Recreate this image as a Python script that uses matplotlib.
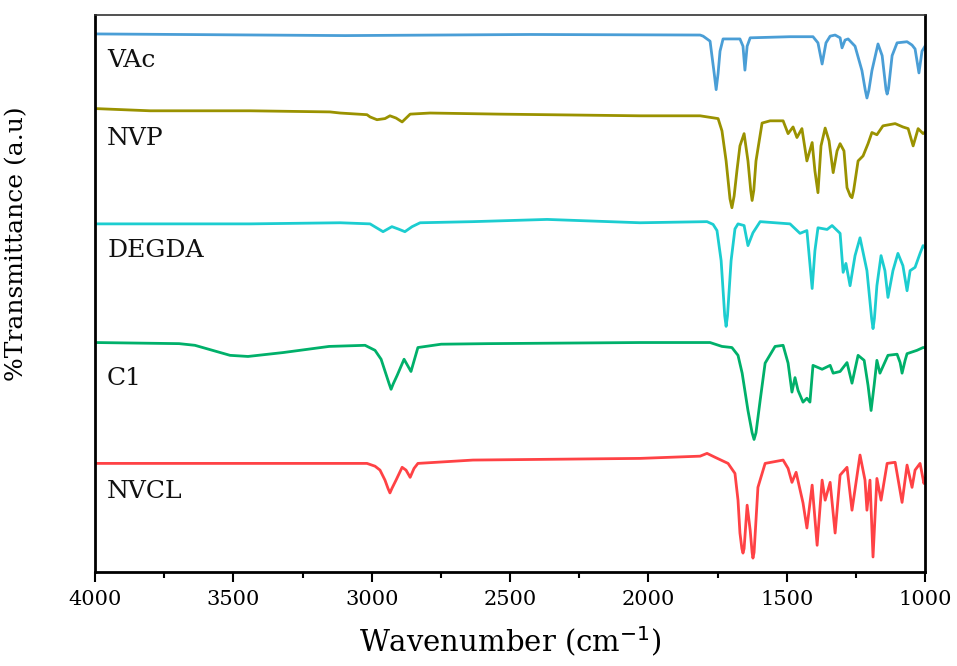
import matplotlib
matplotlib.use("Agg")
import matplotlib.pyplot as plt
from matplotlib.ticker import MultipleLocator

plt.rcParams['font.family'] = ['DejaVu Serif']

# ---- data (wavenumber in cm^-1, transmittance in a.u. with offsets) ----
vac_wn = [4000, 3096, 2428, 1813, 1802, 1777, 1762, 1755, 1748, 1741, 1730, 1669, 1658, 1651,
          1643, 1632, 1488, 1405, 1387, 1372, 1358, 1343, 1325, 1307, 1300, 1289, 1278, 1253,
          1228, 1216, 1210, 1203, 1192, 1170, 1155, 1141, 1137, 1132, 1119, 1101, 1065, 1047,
          1036, 1022, 1011, 1000]
vac_t = [96.6, 96.3, 96.5, 96.4, 96.2, 95.3, 89.5, 86.6, 89.5, 93.5, 95.7, 95.7, 94.4, 90.1,
         94.4, 95.9, 96.1, 96.1, 95.0, 91.2, 95.0, 96.2, 96.4, 95.9, 94.1, 95.5, 95.7, 94.4,
         90.0, 86.5, 85.1, 86.5, 90.0, 94.8, 92.7, 86.6, 85.8, 86.8, 92.7, 95.0, 95.2, 94.6,
         93.9, 89.6, 93.5, 94.4]

nvp_wn = [4000, 3801, 3440, 3151, 3114, 3017, 3006, 2981, 2952, 2934, 2912, 2890, 2861, 2789,
          2536, 2030, 1813, 1748, 1734, 1719, 1705, 1698, 1690, 1680, 1669, 1654, 1640, 1630,
          1625, 1619, 1611, 1589, 1560, 1513, 1495, 1477, 1463, 1445, 1427, 1408, 1398, 1387,
          1376, 1361, 1347, 1332, 1318, 1307, 1293, 1282, 1270, 1264, 1258, 1242, 1224, 1206,
          1192, 1174, 1152, 1108, 1080, 1061, 1043, 1025, 1007, 1000]
nvp_t = [83.2, 82.8, 82.8, 82.6, 82.4, 82.1, 81.7, 81.2, 81.4, 81.9, 81.5, 80.8, 82.2, 82.4,
         82.2, 81.9, 81.9, 81.4, 79.2, 73.8, 67.0, 65.4, 67.5, 72.0, 76.5, 78.7, 73.8, 68.5,
         66.7, 68.5, 73.8, 80.6, 81.0, 81.0, 78.7, 79.9, 78.0, 79.6, 73.8, 77.1, 72.0, 68.1,
         76.5, 79.7, 77.4, 71.7, 75.6, 76.9, 75.6, 69.0, 67.5, 67.2, 68.5, 73.8, 74.7, 76.9,
         78.9, 78.5, 80.1, 80.5, 79.9, 79.6, 76.5, 79.6, 78.7, 79.0]

degda_wn = [4000, 3440, 3114, 3006, 2959, 2927, 2905, 2880, 2854, 2825, 2634, 2366, 2030, 1788,
            1766, 1752, 1737, 1724, 1719, 1714, 1701, 1687, 1676, 1654, 1640, 1622, 1596, 1488,
            1452, 1427, 1408, 1398, 1387, 1354, 1336, 1307, 1296, 1286, 1271, 1253, 1235, 1210,
            1193, 1188, 1183, 1174, 1159, 1145, 1134, 1116, 1098, 1080, 1065, 1054, 1036, 1018,
            1007, 1000]
degda_t = [62.5, 62.5, 62.7, 62.5, 61.1, 62.0, 61.6, 61.1, 62.0, 62.7, 62.9, 63.3, 62.7, 62.9,
           62.4, 61.3, 55.9, 46.0, 44.1, 46.0, 55.9, 61.6, 62.5, 62.2, 58.6, 60.9, 62.9, 62.5,
           60.8, 61.3, 50.9, 57.7, 61.8, 61.5, 62.2, 60.8, 53.8, 55.4, 51.4, 56.8, 60.0, 54.1,
           45.5, 43.7, 45.5, 51.4, 56.8, 54.1, 49.3, 54.1, 57.2, 55.0, 50.5, 54.1, 54.7, 57.2,
           58.6, 58.2]

c1_wn = [4000, 3696, 3639, 3512, 3447, 3320, 3154, 3024, 2988, 2966, 2937, 2930, 2922, 2908,
         2883, 2858, 2833, 2749, 2580, 2030, 1777, 1734, 1698, 1676, 1661, 1640, 1625, 1618,
         1611, 1596, 1578, 1542, 1513, 1495, 1481, 1470, 1459, 1441, 1427, 1416, 1405, 1372,
         1343, 1332, 1307, 1282, 1264, 1242, 1220, 1206, 1195, 1184, 1174, 1163, 1134, 1101,
         1090, 1083, 1072, 1065, 1029, 1007, 1000]
c1_t = [41.2, 41.0, 40.7, 38.9, 38.7, 39.4, 40.5, 40.7, 39.8, 38.2, 33.8, 32.8, 33.8, 35.3,
        38.2, 36.0, 40.3, 40.9, 41.0, 41.2, 41.2, 40.5, 40.3, 38.9, 35.7, 29.0, 25.0, 23.8,
        25.0, 30.8, 37.5, 40.5, 40.7, 37.5, 32.3, 34.9, 32.6, 30.5, 31.2, 30.5, 37.1, 36.4,
        37.1, 35.7, 36.0, 37.6, 33.9, 38.9, 38.0, 33.5, 29.0, 33.5, 38.0, 35.7, 38.9, 39.1,
        37.6, 35.7, 38.0, 39.2, 39.8, 40.3, 40.3]

nvcl_wn = [4000, 3440, 3017, 2988, 2970, 2952, 2941, 2934, 2927, 2912, 2890, 2876, 2861, 2847,
           2833, 2634, 2030, 1813, 1788, 1759, 1712, 1687, 1676, 1669, 1662, 1658, 1654, 1643,
           1632, 1625, 1622, 1618, 1611, 1604, 1578, 1513, 1495, 1481, 1466, 1441, 1427, 1408,
           1390, 1372, 1361, 1343, 1325, 1307, 1282, 1264, 1235, 1217, 1210, 1199, 1188, 1174,
           1159, 1137, 1108, 1083, 1065, 1047, 1036, 1018, 1004, 1000]
nvcl_t = [19.5, 19.5, 19.5, 19.0, 18.3, 16.5, 15.0, 14.2, 15.0, 16.5, 18.8, 18.3, 17.0, 18.6,
          19.5, 20.1, 20.4, 20.8, 21.3, 20.6, 19.5, 17.7, 12.9, 7.0, 4.2, 3.4, 4.2, 12.0,
          7.5, 3.5, 2.5, 3.5, 9.3, 15.2, 19.5, 20.1, 18.6, 16.1, 17.9, 12.4, 7.9, 15.6,
          4.8, 16.5, 12.9, 16.1, 7.0, 17.4, 18.8, 11.1, 21.0, 16.5, 11.1, 16.5, 2.7, 16.8,
          12.9, 19.5, 19.7, 12.5, 19.2, 15.2, 18.3, 19.5, 15.9, 16.8]

names = ["VAc", "NVP", "DEGDA", "C1", "NVCL"]
colors = ["#4a9ed6", "#9a9200", "#1ccdd0", "#00b06a", "#ff4245"]
label_y = [0.919, 0.779, 0.578, 0.348, 0.144]
series = [(vac_wn, vac_t), (nvp_wn, nvp_t), (degda_wn, degda_t), (c1_wn, c1_t), (nvcl_wn, nvcl_t)]

fig = plt.figure(figsize=(9.57, 6.66), dpi=100)
ax = fig.add_axes([0.0993, 0.1411, 0.8673, 0.8364])

for (wn, t), c in zip(series, colors):
    ax.plot(wn, t, color=c, lw=2.0, solid_joinstyle='round')

for name, yy in zip(names, label_y):
    ax.text(0.0145, yy, name, transform=ax.transAxes, fontsize=18, va='center', ha='left',
            color='#111111')

ax.set_xlim(4000, 1000)
ax.set_ylim(0, 100)
ax.xaxis.set_major_locator(MultipleLocator(500))
ax.xaxis.set_minor_locator(MultipleLocator(250))
ax.set_yticks([])
ax.tick_params(axis='x', which='major', direction='out', length=7, width=1.5, labelsize=15,
               pad=6)
ax.tick_params(axis='x', which='minor', direction='out', length=4, width=1.5)

for side in ['left', 'bottom', 'right']:
    ax.spines[side].set_linewidth(2.0)
    ax.spines[side].set_color('black')
ax.spines['top'].set_linewidth(1.2)
ax.spines['top'].set_color('#333333')

ax.set_xlabel("Wavenumber (cm$^{-1}$)", fontsize=21, labelpad=11)
ax.set_ylabel("%Transmittance (a.u)", fontsize=18)
ax.yaxis.set_label_coords(-0.081, 0.59)

fig.savefig("out.png", dpi=100)
